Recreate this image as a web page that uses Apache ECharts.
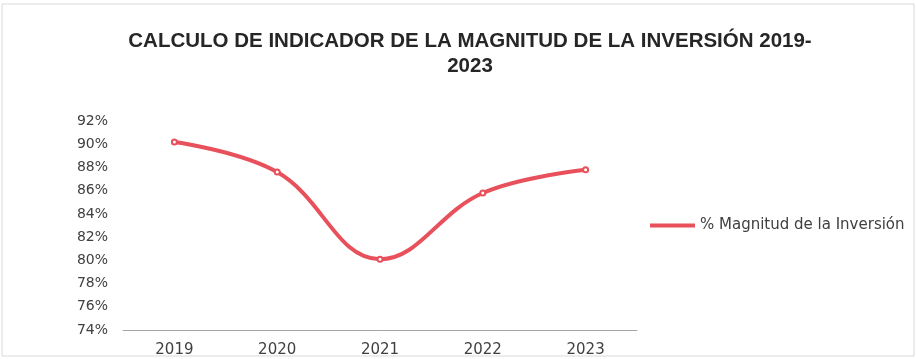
<!DOCTYPE html>
<html>
<head>
<meta charset="utf-8">
<script src="https://cdn.jsdelivr.net/npm/echarts@6/dist/echarts.min.js"></script>
<style>
  html, body { margin: 0; padding: 0; background: #fff; }
  #chart { width: 916px; height: 359px; }
</style>
</head>
<body>
<div id="chart"></div>
<script>
const years = ['2019', '2020', '2021', '2022', '2023'];
const magnitud = [90.2, 87.6, 80.1, 85.8, 87.8];
const seriesName = '% Magnitud de la Inversión';

const chart = echarts.init(document.getElementById('chart'));

const option = {
    backgroundColor: '#fff',
    animation: false,
    title: {
        text: 'CALCULO DE INDICADOR DE LA MAGNITUD DE LA INVERSIÓN 2019-\n2023',
        left: 465,
        top: 24,
        textAlign: 'center',
        textStyle: {
            fontFamily: 'Liberation Sans',
            fontWeight: 'bold',
            fontSize: 20.5,
            lineHeight: 25,
            color: '#262626'
        }
    },
    legend: {
        data: [seriesName],
        orient: 'vertical',
        left: 645,
        top: 213,
        itemWidth: 45,
        itemHeight: 4,
        itemGap: 4,
        icon: 'rect',
        itemStyle: { borderWidth: 0, color: '#e8505b' },
        textStyle: {
            fontFamily: 'DejaVu Sans',
            fontSize: 15,
            color: '#404040'
        }
    },
    grid: {
        left: 123,
        right: 279,
        top: 121,
        bottom: 29
    },
    xAxis: {
        type: 'category',
        data: years,
        boundaryGap: true,
        axisLine: { lineStyle: { color: '#a6a6a6', width: 1 } },
        axisTick: { show: false },
        axisLabel: {
            fontFamily: 'DejaVu Sans',
            fontSize: 15,
            color: '#404040',
            margin: 13
        }
    },
    yAxis: {
        type: 'value',
        min: 74,
        max: 92,
        interval: 2,
        axisLine: { show: false },
        axisTick: { show: false },
        splitLine: { show: false },
        axisLabel: {
            formatter: '{value}%',
            fontFamily: 'DejaVu Sans',
            fontSize: 14,
            color: '#404040',
            margin: 15
        }
    },
    series: [{
        name: seriesName,
        type: 'line',
        data: magnitud,
        smooth: 0.4,
        symbol: 'emptyCircle',
        symbolSize: 5,
        itemStyle: { color: '#e8505b', borderColor: '#b8a8b0', borderWidth: 1 },
        lineStyle: { color: '#e8505b', width: 4 }
    }],
    graphic: [{
        type: 'rect',
        shape: { x: 2, y: 4, width: 912, height: 352 },
        style: { fill: 'none', stroke: '#d9d9d9', lineWidth: 1 },
        silent: true
    }]
};

chart.setOption(option);
window.addEventListener('resize', chart.resize);
</script>
</body>
</html>
